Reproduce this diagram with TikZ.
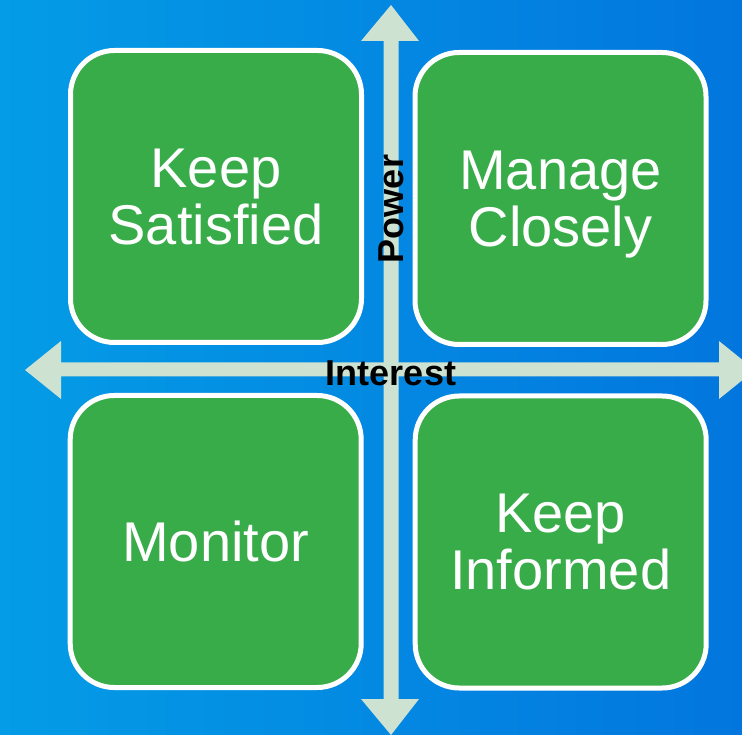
\documentclass[tikz,border=0pt]{standalone}
\usepackage{fontspec}
\setmainfont{Liberation Sans}
\definecolor{bgleft}{RGB}{4,156,230}
\definecolor{bgright}{RGB}{2,118,222}
\definecolor{boxgreen}{RGB}{57,172,74}
\definecolor{axiscol}{RGB}{206,226,210}
\tikzset{
  quad/.style={draw=white, line width=5pt, fill=boxgreen, rounded corners=44pt,
    minimum width=291pt, minimum height=292pt, inner sep=0pt,
    text=white, align=center, text depth=0pt,
    font=\fontsize{56}{57}\selectfont},
  axislabel/.style={text=black, inner sep=0pt, anchor=base,
    font=\fontsize{36}{40}\selectfont\bfseries},
  axisarrow/.style={fill=axiscol, draw=none}
}
\begin{document}
\begin{tikzpicture}[x=1pt,y=-1pt]
\useasboundingbox (0,0) rectangle (742,735);
\shade[left color=bgleft, right color=bgright] (0,0) rectangle (742,735);
% vertical axis (Power)
\fill[axisarrow] (391,5) -- (419,41) -- (398.5,41) -- (398.5,699) -- (419,699)
  -- (391,735) -- (361,699) -- (383.5,699) -- (383.5,41) -- (361,41) -- cycle;
% horizontal axis (Interest)
\fill[axisarrow] (25,370) -- (61,341) -- (61,362.5) -- (719,362.5) -- (719,341)
  -- (755,370) -- (719,399) -- (719,376.5) -- (61,376.5) -- (61,399) -- cycle;
% quadrants
\node[quad] (ks) at (216,196.5) {Keep\\Satisfied};
\node[quad] (mc) at (560.5,198.5) {Manage\\Closely};
\node[quad] (mo) at (215.7,541.5) {Monitor};
\node[quad] (ki) at (560.7,542) {Keep\\Informed};
% axis labels
\node[axislabel, rotate=90] (power) at (403,209) {Power};
\node[axislabel] (interest) at (391,385) {Interest};
\end{tikzpicture}
\end{document}
